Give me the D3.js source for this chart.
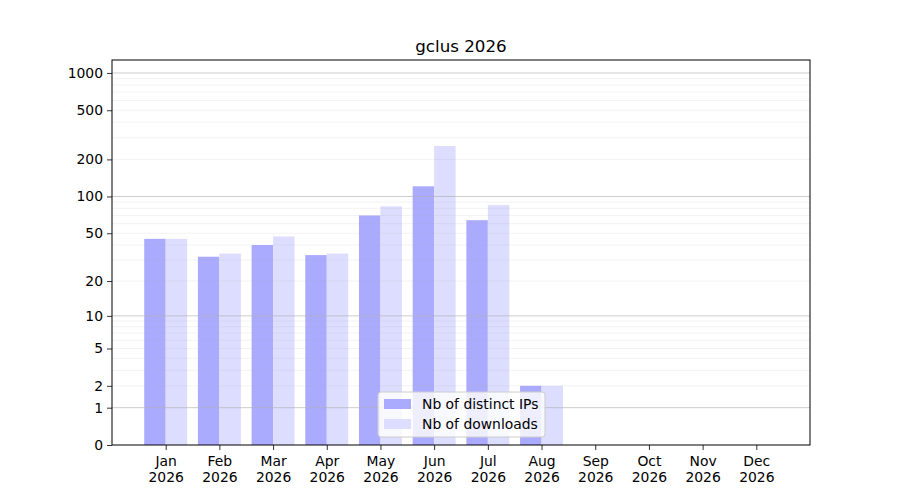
<!DOCTYPE html>
<head>
    <meta charset="utf-8">
    <script src="https://d3js.org/d3.v7.min.js"></script>
    <style>
        body { margin: 0; background: #fff; }
        text { font-family: "DejaVu Sans", sans-serif; }
    </style>
</head>
<body>
<svg width="900" height="500"></svg>
<script>

    // data
    var months = ["Jan", "Feb", "Mar", "Apr", "May", "Jun", "Jul", "Aug", "Sep", "Oct", "Nov", "Dec"];
    var year = "2026";
    var distinctIPs = [45, 32, 40, 33, 70, 121, 64, 2, 0, 0, 0, 0];
    var downloads = [45, 34, 47, 34, 83, 257, 85, 2, 0, 0, 0, 0];
    var yTicks = [0, 1, 2, 5, 10, 20, 50, 100, 200, 500, 1000];
    var seriesNames = ["Nb of distinct IPs", "Nb of downloads"];

    var svg = d3.select("svg"),
        margin = {top: 60, right: 90, bottom: 55, left: 112},
        width = +svg.attr("width") - margin.left - margin.right,
        height = +svg.attr("height") - margin.top - margin.bottom;

    var g = svg.append("g").attr("transform", "translate(" + margin.left + "," + margin.top + ")");

    // log(1+x) style scale
    var f = v => Math.log10(v + 1);
    var yLin = d3.scaleLinear().domain([0, 3.105]).range([height, 0]);
    var y = v => yLin(f(v));

    var x = d3.scaleLinear().domain([-1, 12]).range([0, width]);
    var bw = 0.4 * (x(1) - x(0));

    // grid lines (minor then major)
    var minor = [], major = [1, 10, 100, 1000];
    [1, 10, 100].forEach(d => { for (var k = 2; k <= 9; k++) minor.push(k * d); });

    // bars
    g.selectAll(".ip").data(distinctIPs).enter().append("rect")
        .attr("fill", "#aaaaff")
        .attr("x", (d, i) => x(i) - bw)
        .attr("width", bw)
        .attr("y", d => y(d))
        .attr("height", d => height - y(d));

    g.selectAll(".dl").data(downloads).enter().append("rect")
        .attr("fill", "#ddddff")
        .attr("x", (d, i) => x(i))
        .attr("width", bw)
        .attr("y", d => y(d))
        .attr("height", d => height - y(d));

    g.selectAll(".minor").data(minor).enter().append("line")
        .attr("x1", 0).attr("x2", width)
        .attr("y1", d => y(d)).attr("y2", d => y(d))
        .attr("stroke", "#b0b0b0").attr("stroke-opacity", 0.2).attr("stroke-width", 0.8);

    g.selectAll(".major").data(major).enter().append("line")
        .attr("x1", 0).attr("x2", width)
        .attr("y1", d => y(d)).attr("y2", d => y(d))
        .attr("stroke", "#b0b0b0").attr("stroke-opacity", 0.8).attr("stroke-width", 0.8);

    // axes
    var yAxis = d3.axisLeft(yLin)
        .tickValues(yTicks.map(f))
        .tickFormat((d, i) => yTicks[i])
        .tickSizeInner(5).tickSizeOuter(0).tickPadding(4);

    var xAxis = d3.axisBottom(x)
        .tickValues(d3.range(12))
        .tickFormat("")
        .tickSizeInner(5).tickSizeOuter(0);

    var ya = g.append("g").call(yAxis);
    var xa = g.append("g").attr("transform", "translate(0," + height + ")").call(xAxis);

    [ya, xa].forEach(a => {
        a.select(".domain").remove();
        a.selectAll("line").attr("stroke", "#000").attr("stroke-width", 0.8);
        a.selectAll("text").attr("fill", "#000").style("font-size", "13.9px");
    });

    xa.selectAll(".tick").append("text")
        .attr("fill", "#000").attr("text-anchor", "middle").style("font-size", "13.9px")
        .selectAll("tspan").data(i => [months[i], year]).enter().append("tspan")
        .attr("x", 0).attr("y", (d, j) => 21 + j * 16)
        .text(d => d);

    // frame
    g.append("rect").attr("width", width).attr("height", height)
        .attr("fill", "none").attr("stroke", "#000").attr("stroke-width", 1);

    // title
    svg.append("text")
        .attr("x", margin.left + width / 2).attr("y", 52)
        .attr("text-anchor", "middle").style("font-size", "16.7px")
        .text("gclus 2026");

    // legend
    var lg = g.append("g").attr("transform", "translate(266,332)");
    lg.append("rect").attr("width", 167).attr("height", 45).attr("rx", 3)
        .attr("fill", "#fff").attr("fill-opacity", 0.8)
        .attr("stroke", "#cccccc").attr("stroke-width", 1);
    lg.selectAll(".sw").data(["#aaaaff", "#ddddff"]).enter().append("rect")
        .attr("x", 6).attr("y", (d, i) => 7 + i * 20)
        .attr("width", 27).attr("height", 10)
        .attr("fill", d => d);
    lg.selectAll(".lt").data(seriesNames).enter().append("text")
        .attr("x", 44).attr("y", (d, i) => 17 + i * 20)
        .style("font-size", "13.9px").text(d => d);

</script>
</body>
